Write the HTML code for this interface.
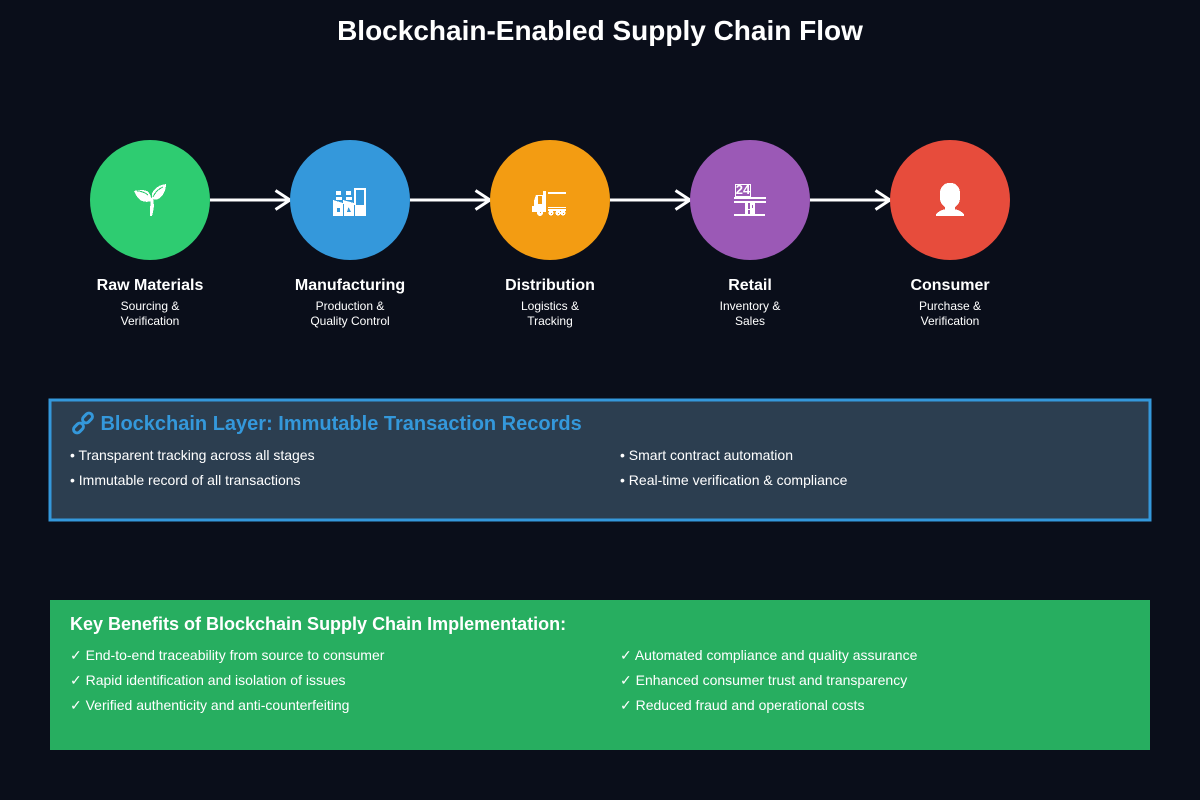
<!DOCTYPE html>
<html>
<head>
<meta charset="utf-8">
<style>
html,body{margin:0;padding:0;background:#0a0e1a;width:1200px;height:800px;overflow:hidden;}
body{position:relative;font-family:"Liberation Sans",Arial,sans-serif;color:#fff;}
svg{position:absolute;left:0;top:0;display:block;}
.t{position:absolute;white-space:nowrap;}
.c{width:200px;text-align:center;}
.h{font-size:16px;line-height:17px;font-weight:bold;}
.s{font-size:12px;line-height:20px;}
.b{font-size:14px;line-height:20px;}
</style>
</head>
<body>
<svg width="1200" height="800" viewBox="0 0 1200 800" xmlns="http://www.w3.org/2000/svg">
<g stroke="#ffffff" stroke-width="3" fill="none">
<line x1="210" y1="200" x2="290" y2="200"/><polyline points="275.500,190.500 290,200 275.500,209.500"/>
<line x1="410" y1="200" x2="490" y2="200"/><polyline points="475.500,190.500 490,200 475.500,209.500"/>
<line x1="610" y1="200" x2="690" y2="200"/><polyline points="675.500,190.500 690,200 675.500,209.500"/>
<line x1="810" y1="200" x2="890" y2="200"/><polyline points="875.500,190.500 890,200 875.500,209.500"/>
</g>
<circle cx="150" cy="200" r="60" fill="#2ecc71"/>
<circle cx="350" cy="200" r="60" fill="#3498db"/>
<circle cx="550" cy="200" r="60" fill="#f39c12"/>
<circle cx="750" cy="200" r="60" fill="#9b59b6"/>
<circle cx="950" cy="200" r="60" fill="#e74c3c"/>
<rect x="50" y="400" width="1100" height="120" fill="#2c3e50" stroke="#3498db" stroke-width="3"/>
<rect x="50" y="600" width="1100" height="150" fill="#27ae60"/>

<!-- seedling -->
<g fill="#fff" shape-rendering="crispEdges">
<path d="M134 191 Q141 189 147 191 Q151 194 152 201 Q145 203 140 200 Q136 196 134 191Z"/>
<path d="M166 184 Q166 192 161 197 Q157 201 152 199 Q151 192 155 189 Q159 185 166 184Z"/>
<path d="M151 198 L153 198 L154 206 L153 212 L152 216 L150 216 L150 209Z"/>
</g>
<path d="M137 191 Q143 191 148 195" stroke="#2ecc71" stroke-width="1" fill="none" shape-rendering="crispEdges"/>
<path d="M163 187 Q156 190 153 197" stroke="#2ecc71" stroke-width="1" fill="none" shape-rendering="crispEdges"/>

<!-- factory -->
<g fill="#fff" shape-rendering="crispEdges">
<rect x="336" y="191" width="5" height="4"/><rect x="346" y="191" width="5" height="4"/>
<rect x="336" y="197" width="6" height="3"/><rect x="346" y="197" width="6" height="3"/>
<path d="M333 200 L343 203 L343 200 L354 203 L354 188 L366 188 L366 216 L333 216Z"/>
</g>
<g fill="#3498db" shape-rendering="crispEdges">
<rect x="356" y="190" width="8" height="15"/>
<rect x="337" y="208" width="3" height="4"/>
<path d="M347 212 L348.500 207 L351 212Z"/>
<rect x="343" y="204" width="1" height="12"/>
<rect x="354" y="205" width="1" height="11"/>
</g>

<!-- truck -->
<g fill="#fff" shape-rendering="crispEdges">
<rect x="548" y="192" width="18" height="2"/>
<rect x="543" y="191" width="3" height="21"/>
<path d="M534 201 L536 195 L543 195 L543 212 L532 212 L532 206 L534 206Z"/>
<rect x="548" y="207" width="18" height="1"/>
<rect x="548" y="209" width="18" height="2"/>
<circle cx="540" cy="213" r="3"/><circle cx="551" cy="213" r="2.500"/>
<circle cx="558" cy="213" r="2.500"/><circle cx="563" cy="213" r="2.500"/>
</g>
<g fill="#f39c12" shape-rendering="crispEdges">
<rect x="538" y="196" width="4" height="8"/>
<rect x="540" y="212" width="1" height="1"/><rect x="551" y="213" width="1" height="1"/>
<rect x="558" y="213" width="1" height="1"/><rect x="563" y="213" width="1" height="1"/>
</g>

<!-- store -->
<g fill="#fff" shape-rendering="crispEdges">
<path fill-rule="evenodd" d="M735 184 H751 V197 H735Z M736 185 V196 H750 V185Z"/>
<rect x="734" y="197" width="32" height="2"/>
<rect x="734" y="201" width="32" height="2"/>
<rect x="734" y="214" width="31" height="2"/>
<rect x="745" y="203" width="3" height="11"/>
<rect x="750" y="203" width="5" height="11"/>
<rect x="748" y="209" width="2" height="1"/>
<rect x="752" y="205" width="1" height="3" fill="#9b59b6"/>
</g>
<text x="743" y="194" text-anchor="middle" font-family="Liberation Sans" font-size="13" font-weight="bold" fill="#fff">24</text>

<!-- person -->
<g fill="#fff" shape-rendering="crispEdges">
<rect x="940" y="183" width="20" height="25" rx="9" ry="10"/>
<rect x="945" y="204" width="10" height="7"/>
<path d="M936 216 L936 214 Q940 210 946 209 L954 209 Q960 210 964 214 L964 216Z"/>
</g>

<!-- chain -->
<g fill="none" stroke="#3498db" stroke-width="3">
<rect x="82" y="414.500" width="11" height="7" rx="3.500" transform="rotate(-45 87.500 418)"/>
<rect x="73" y="424.500" width="11" height="7" rx="3.500" transform="rotate(-45 78.500 428)"/>
</g>
</svg>

<div class="t" style="left:0;width:1200px;text-align:center;top:15px;font-size:28px;line-height:31px;font-weight:bold;">Blockchain-Enabled Supply Chain Flow</div>

<div class="t c h" style="left:50px;top:277px;">Raw Materials</div>
<div class="t c h" style="left:250px;top:277px;">Manufacturing</div>
<div class="t c h" style="left:450px;top:277px;">Distribution</div>
<div class="t c h" style="left:650px;top:277px;">Retail</div>
<div class="t c h" style="left:850px;top:277px;">Consumer</div>

<div class="t c s" style="left:50px;top:296px;">Sourcing &amp;</div>
<div class="t c s" style="left:50px;top:311px;">Verification</div>
<div class="t c s" style="left:250px;top:296px;">Production &amp;</div>
<div class="t c s" style="left:250px;top:311px;">Quality Control</div>
<div class="t c s" style="left:450px;top:296px;">Logistics &amp;</div>
<div class="t c s" style="left:450px;top:311px;">Tracking</div>
<div class="t c s" style="left:650px;top:296px;">Inventory &amp;</div>
<div class="t c s" style="left:650px;top:311px;">Sales</div>
<div class="t c s" style="left:850px;top:296px;">Purchase &amp;</div>
<div class="t c s" style="left:850px;top:311px;">Verification</div>

<div class="t" style="left:100.460px;top:413px;font-size:20px;line-height:22px;font-weight:bold;color:#3498db;">Blockchain Layer: Immutable Transaction Records</div>
<div class="t b" style="left:70px;top:445px;">• Transparent tracking across all stages</div>
<div class="t b" style="left:70px;top:470px;">• Immutable record of all transactions</div>
<div class="t b" style="left:620px;top:445px;">• Smart contract automation</div>
<div class="t b" style="left:620px;top:470px;">• Real-time verification &amp; compliance</div>

<div class="t" style="left:70px;top:614px;font-size:18px;line-height:20px;font-weight:bold;">Key Benefits of Blockchain Supply Chain Implementation:</div>
<div class="t b" style="left:70px;top:645px;">✓ End-to-end traceability from source to consumer</div>
<div class="t b" style="left:70px;top:670px;">✓ Rapid identification and isolation of issues</div>
<div class="t b" style="left:70px;top:695px;">✓ Verified authenticity and anti-counterfeiting</div>
<div class="t b" style="left:620px;top:645px;">✓ Automated compliance and quality assurance</div>
<div class="t b" style="left:620px;top:670px;">✓ Enhanced consumer trust and transparency</div>
<div class="t b" style="left:620px;top:695px;">✓ Reduced fraud and operational costs</div>
</body>
</html>
